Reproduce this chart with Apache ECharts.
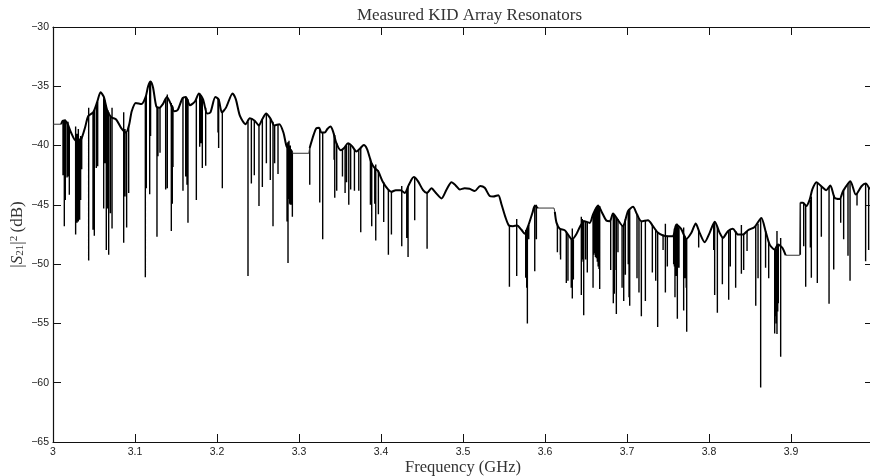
<!DOCTYPE html>
<html><head><meta charset="utf-8">
<style>html,body{margin:0;padding:0;background:#fff;overflow:hidden}#c{width:870px;height:476px}</style>
<script src="https://cdn.jsdelivr.net/npm/echarts@6/dist/echarts.min.js"></script>
</head><body><div id="c"></div>
<script>
const chartTitle = 'Measured KID Array Resonators';
const xName = 'Frequency (GHz)';

// Smooth transmission envelope, one run per measured band: [GHz, dB]
const band1 = [[3.010,-38.2],[3.012,-37.9],[3.015,-37.9],[3.018,-38.2],[3.022,-38.9],[3.028,-39.6],[3.034,-39.5],[3.039,-38.5],[3.043,-37.5],[3.049,-37.2],[3.054,-36.3],[3.058,-35.5],[3.062,-35.9],[3.066,-37],[3.071,-37.6],[3.077,-37.8],[3.083,-38.5],[3.089,-38.9],[3.093,-38.2],[3.096,-37.1],[3.101,-36.4],[3.108,-36.5],[3.113,-35.9],[3.116,-35],[3.119,-34.6],[3.122,-35.1],[3.126,-36.7],[3.130,-36.8],[3.134,-36.5],[3.139,-35.9],[3.143,-36.4],[3.148,-37.1],[3.152,-37],[3.158,-36],[3.162,-35.9],[3.167,-36.6],[3.173,-36.3],[3.178,-35.6],[3.183,-36.1],[3.188,-37.3],[3.192,-37.2],[3.198,-35.9],[3.202,-36.1],[3.206,-37.2],[3.211,-36.8],[3.219,-35.6],[3.223,-36.1],[3.228,-37.5],[3.235,-38.2],[3.240,-37.7],[3.246,-37.9],[3.251,-38.3],[3.255,-37.8],[3.260,-37.3],[3.265,-37.7],[3.270,-38.3],[3.276,-38.2],[3.281,-38.9],[3.285,-40.1],[3.289,-40.3],[3.292,-40.6]];
const band2 = [[3.313,-40.2],[3.318,-39.06],[3.321,-38.55],[3.3245,-38.5],[3.3273,-38.9],[3.3314,-38.9],[3.3346,-38.6],[3.3383,-38.4],[3.3415,-38.8],[3.3456,-39.8],[3.3509,-40.4],[3.355,-40.2],[3.3598,-39.8],[3.3647,-40.05],[3.370,-40.5],[3.375,-40.2],[3.379,-39.96],[3.383,-40.3],[3.3883,-41.45],[3.3924,-41.9],[3.3964,-42.15],[3.4025,-43.1],[3.4086,-43.7],[3.4127,-43.9],[3.418,-43.76],[3.4237,-43.76],[3.429,-44],[3.434,-43.3],[3.44,-42.66],[3.445,-43],[3.4513,-43.76],[3.456,-44],[3.4615,-43.6],[3.467,-44],[3.4737,-44.46],[3.48,-43.7],[3.486,-43.1],[3.491,-43.36],[3.496,-43.7],[3.502,-43.6],[3.508,-43.64],[3.5143,-43.84],[3.521,-43.4],[3.5265,-43.56],[3.5326,-44.26],[3.5367,-44.3],[3.543,-44.18],[3.547,-44.97],[3.552,-46.09],[3.556,-46.74],[3.561,-46.8],[3.566,-46.74],[3.5712,-47.1],[3.5753,-47.44],[3.5794,-46.8],[3.5847,-45.67],[3.5875,-45.1],[3.5915,-45.27]];
const band3 = [[3.612,-45.6],[3.614,-46.5],[3.618,-47.02],[3.624,-47.14],[3.628,-47.5],[3.633,-47.92],[3.638,-47.5],[3.643,-46.8],[3.648,-46.38],[3.6545,-46.52],[3.6586,-45.8],[3.6647,-45.06],[3.6687,-45.53],[3.6748,-46.32],[3.679,-46.38],[3.683,-45.73],[3.688,-46.18],[3.695,-46.8],[3.7012,-45.53],[3.7073,-45.17],[3.7122,-45.8],[3.7175,-46.38],[3.7256,-46.29],[3.7317,-46.8],[3.7378,-47.36],[3.744,-47.59],[3.75,-47.64],[3.756,-47.64],[3.7602,-46.66],[3.766,-47.02],[3.7724,-47.87],[3.7785,-47.36],[3.7838,-46.57],[3.7886,-47.36],[3.7947,-48.15],[3.8008,-47.36],[3.807,-46.43],[3.813,-47.36],[3.817,-47.78],[3.823,-47.22],[3.829,-47.02],[3.8354,-47.5],[3.8415,-47.5],[3.8476,-47.14],[3.8557,-46.86],[3.8638,-46.1],[3.869,-47.22],[3.874,-48.35],[3.88,-48.77],[3.884,-48.35],[3.8895,-48.63],[3.8935,-49.25]];
const band4 = [[3.9114,-44.83],[3.9146,-44.83],[3.9187,-45.1],[3.9228,-44.55],[3.926,-43.7],[3.931,-43.09],[3.937,-43.43],[3.943,-43.76],[3.948,-43.37],[3.9533,-44.41],[3.9593,-44.5],[3.9634,-43.85],[3.9724,-43],[3.979,-44.13],[3.986,-43.43],[3.991,-43.2],[3.996,-43.7]];

// Empty stretches between the resonator bands
const flat0 = [[3.0,-38.2],[3.010,-38.2]];
const flat1 = [[3.292,-40.65],[3.312,-40.65],[3.313,-40.2]];
const flat2 = [[3.5915,-45.27],[3.611,-45.27],[3.612,-45.6]];
const flat3 = [[3.8935,-49.25],[3.9106,-49.25],[3.9114,-44.83]];

// Resonance notches: [GHz, dB at top, dB at bottom]
const dipsA = [[3.0122,-37.9,-42.5],[3.0138,-37.8,-46.8],[3.015,-37.8,-44.6],[3.0171,-38,-42.7],[3.0183,-38,-42.6],[3.0199,-38.5,-44.15],[3.0276,-38.4,-47.5],[3.0293,-39,-46.5],[3.0309,-38.6,-46.4],[3.0325,-39.4,-46.25],[3.0337,-39.2,-44.6],[3.035,-39.3,-42],[3.0435,-36.8,-49.7],[3.0488,-37.2,-47.1],[3.0504,-37,-47.6],[3.0528,-36.6,-41.9],[3.0545,-36.3,-41.75],[3.0618,-36,-45.3],[3.0634,-36.2,-41.5],[3.065,-36.6,-48.8],[3.0667,-37,-45.3],[3.0679,-37.2,-49.2],[3.07,-37.5,-45.7],[3.072,-36.8,-47],[3.0862,-37.2,-48.2],[3.0878,-38.6,-44.3],[3.0898,-38.9,-46.9],[3.0923,-38.3,-44]];
const dipsB = [[3.1126,-36,-51.1],[3.1138,-35.8,-43.6],[3.1179,-34.7,-44.1],[3.119,-34.6,-39.2],[3.1268,-36.7,-47.7],[3.128,-36.8,-40.9],[3.1305,-36.8,-40.6],[3.1374,-36.1,-43.7],[3.1394,-35.7,-43.6],[3.1443,-36.4,-47.2],[3.1455,-36.6,-44.9],[3.1463,-36.7,-41.8],[3.1585,-35.9,-43.8],[3.1618,-35.9,-42.6],[3.1634,-36,-43.3],[3.1646,-36.1,-46.5],[3.1748,-36.1,-44.6],[3.1789,-35.6,-40.1],[3.1805,-35.8,-39.8],[3.1821,-36,-41.9],[3.1862,-36.8,-41.7],[3.2012,-36,-38.9],[3.202,-36.1,-40.2],[3.2065,-37.2,-43.6]];
const dipsC = [[3.2378,-38,-51],[3.2419,-37.7,-43.2],[3.2455,-37.9,-42.5],[3.2512,-38.3,-45.1],[3.2553,-37.8,-43.5],[3.2602,-37.3,-41.5],[3.265,-37.7,-42.9],[3.2683,-38,-46.8],[3.2703,-38.3,-41.5],[3.2744,-38.2,-42.4],[3.2854,-39.8,-46.4],[3.2866,-39.7,-49.9],[3.2878,-39.6,-44.5],[3.2886,-40.2,-44.9],[3.2894,-40,-45],[3.2902,-40.3,-44.9],[3.291,-40.4,-45],[3.2919,-40.6,-46]];
const dipsD = [[3.3131,-40.2,-43.3],[3.3253,-38.6,-44.8],[3.3289,-38.9,-47.9],[3.3428,-39,-41.2],[3.3436,-39.1,-44.4],[3.346,-39.8,-43.8],[3.353,-40.3,-42.6],[3.3562,-40.1,-44],[3.358,-40,-43.1],[3.3607,-39.8,-45],[3.363,-40,-43.7],[3.3676,-40.3,-43.8],[3.3729,-40.3,-43.8],[3.3753,-40.2,-47.3],[3.3871,-41.1,-45],[3.3887,-41.5,-46.8],[3.3924,-41.8,-44.9],[3.3936,-41.6,-48],[3.3968,-42.1,-45.8],[3.4033,-43.1,-46.45],[3.409,-43.7,-49.2],[3.4127,-43.9,-47.5],[3.4253,-43.4,-48.5],[3.4314,-43.7,-47.8],[3.433,-43.4,-49.4],[3.4411,-42.7,-46.3],[3.4562,-43.9,-48.7]];
const dipsE = [[3.5566,-46.7,-51.9],[3.5655,-46.2,-51],[3.5765,-47.1,-51.15],[3.5777,-47,-52],[3.5785,-46.9,-55],[3.5802,-46.7,-47.9],[3.5875,-45,-50.6],[3.5895,-45,-47.9],[3.6151,-46.6,-49],[3.6187,-47,-49.2],[3.619,-47,-49.6],[3.626,-47.2,-51.6],[3.628,-47.5,-51.4],[3.632,-47.8,-52],[3.6333,-47,-52.9],[3.6346,-47.9,-51.3],[3.6443,-46,-52.6],[3.6455,-46.2,-49.6],[3.6472,-46.3,-54.3],[3.6495,-46.4,-49.6],[3.6516,-46.5,-50.7],[3.6586,-45.8,-52],[3.6606,-45.5,-49.05],[3.6626,-45.2,-49.5],[3.6659,-45.1,-50.4],[3.6667,-45.1,-52.1]];
const dipsF = [[3.6801,-46.3,-50.5],[3.6833,-45.7,-53.3],[3.685,-45.9,-50.5],[3.687,-46.1,-54.2],[3.694,-46.7,-52],[3.696,-46.6,-53.1],[3.698,-46.2,-50.9],[3.7025,-45.4,-52.8],[3.7033,-45.4,-53.5],[3.7122,-45.8,-51.2],[3.7146,-46.1,-52.4],[3.7175,-46.4,-54.4],[3.7224,-46.3,-53.1],[3.7309,-46.7,-50.7],[3.735,-47.1,-51.4],[3.7374,-47.3,-55.3],[3.744,-47.5,-48.8],[3.7468,-46.6,-52.4],[3.7492,-47.6,-50.2],[3.7569,-47.5,-50],[3.7585,-47,-52.8],[3.7602,-46.7,-51],[3.7614,-46.6,-54.6],[3.7634,-46.9,-50.3],[3.7691,-46.9,-53.9],[3.7707,-47.6,-51.2],[3.7728,-47.8,-55.7]];
const dipsG = [[3.7874,-47.2,-48.6],[3.8057,-46.6,-48.8],[3.8069,-46.4,-52.6],[3.8102,-46.8,-54.1],[3.8163,-47.7,-51.7],[3.824,-47.2,-53],[3.826,-47.1,-50.2],[3.8325,-47.2,-52],[3.8395,-46.7,-50.8],[3.8423,-47.5,-50.5],[3.8464,-47.2,-48.9],[3.857,-46.8,-53.5],[3.8598,-46.6,-51.2],[3.863,-46.2,-60.4],[3.869,-47.2,-50.3],[3.8728,-48.2,-51.2],[3.8801,-48.8,-55.85],[3.8815,-48.7,-54.4],[3.8829,-47.2,-55.9],[3.8845,-48.3,-53.3],[3.8874,-47.8,-57.8]];
const dipsH = [[3.9114,-44.8,-49.2],[3.9155,-44.9,-48.5],[3.9179,-45,-51.9],[3.9236,-44.6,-48.6],[3.9248,-44.3,-51.15],[3.9321,-43.1,-51.6],[3.937,-43.4,-47.7],[3.9464,-43.5,-53.35],[3.9521,-44.2,-50.45],[3.9606,-44.4,-46.5],[3.9642,-43.8,-47.9],[3.9695,-43.2,-49.3],[3.972,-43,-51.4],[3.9805,-44,-45.06],[3.991,-43.2,-49.75],[3.9947,-43.5,-48.8]];
// Tightly packed notches that read as solid dark patches
const dipsDense = [[3.6445,-46.3,-49.5],[3.6465,-46.3,-49.8],[3.6595,-45.7,-49.2],[3.6615,-45.4,-49.4],[3.6638,-45.1,-49.8],[3.6648,-45.1,-50.2],[3.6845,-45.8,-52.5],[3.689,-46.2,-49],[3.7015,-45.5,-50],[3.7578,-47,-50.2],[3.7592,-46.8,-50.3],[3.7608,-46.7,-50.4],[3.7622,-46.8,-50.3],[3.7712,-47.7,-50.8],[3.7722,-47.8,-52],[3.882,-48.7,-55],[3.8838,-48.5,-54]];

const bands = [band1, band2, band3, band4];
const flats = [flat0, flat1, flat2, flat3];
const dips = [dipsA, dipsB, dipsC, dipsD, dipsE, dipsF, dipsG, dipsH, dipsDense];

const joinRuns = runs => runs.flatMap(r => [...r, null]);
const dipTrace = dips.flat().flatMap(d => [[d[0], d[1]], [d[0], d[2]], null]);

const sans = '"Liberation Sans", Arial, sans-serif';
const serif = '"Liberation Serif", serif';
const ink = '#111';
const tickLabel = v => String(v).replace('-', '\u2212');

const chart = echarts.init(document.getElementById('c'), null, {renderer: 'canvas'});
const sharedX = {type: 'value', min: 3, max: 4, interval: 0.1, splitLine: {show: false}};
const sharedY = {type: 'value', min: -65, max: -30, interval: 5, splitLine: {show: false}};
const tick = {show: true, inside: true, length: 8, lineStyle: {color: ink, width: 1}};
const spine = {show: true, onZero: false, lineStyle: {color: ink, width: 1.2}};

chart.setOption({
  animation: false,
  backgroundColor: '#fff',
  title: {text: chartTitle, left: 464.5, top: 2, textAlign: 'center',
    textStyle: {fontFamily: serif, fontSize: 17, fontWeight: 'normal', color: '#333'}},
  grid: {left: 53, width: 820, top: 27, height: 415, outerBoundsMode: 'none', containLabel: false},
  xAxis: [
    {...sharedX, position: 'bottom', axisLine: spine, axisTick: tick,
     axisLabel: {color: '#222', fontFamily: sans, fontSize: 10.5, margin: 5, showMaxLabel: false,
       formatter: v => String(+v.toFixed(1))},
     name: xName, nameLocation: 'center', nameGap: 17, nameMoveOverlap: false,
     nameTextStyle: {fontFamily: serif, fontSize: 16.5, color: '#333'}},
    {...sharedX, position: 'top', axisLine: spine, axisTick: tick, axisLabel: {show: false}}
  ],
  yAxis: [
    {...sharedY, position: 'left', axisLine: spine, axisTick: tick,
     axisLabel: {color: '#222', fontFamily: sans, fontSize: 10.5, margin: 4, formatter: tickLabel},
     name: '{t||}{i|S}{s|21}{t||}{u|2} {t|(dB)}', nameLocation: 'center', nameGap: 27, nameRotate: 90, nameMoveOverlap: false,
     nameTextStyle: {rich: {
       t: {fontFamily: serif, fontSize: 17, color: '#333'},
       i: {fontFamily: serif, fontSize: 17, fontStyle: 'italic', color: '#333'},
       s: {fontFamily: serif, fontSize: 11, color: '#333', verticalAlign: 'bottom', padding: [5, 0, 0, 0]},
       u: {fontFamily: serif, fontSize: 11, color: '#333', verticalAlign: 'top', padding: [0, 0, 5, 0]}
     }}},
    {...sharedY, position: 'right', axisLine: spine, axisTick: tick, axisLabel: {show: false}}
  ],
  series: [
    {type: 'line', name: 'notches', data: dipTrace, showSymbol: false, connectNulls: false,
     lineStyle: {color: '#000', width: 1.4}, silent: true},
    {type: 'line', name: 'gaps', data: joinRuns(flats), showSymbol: false, connectNulls: false,
     lineStyle: {color: '#333', width: 1}, silent: true},
    {type: 'line', name: 'envelope', data: joinRuns(bands), showSymbol: false, connectNulls: false, smooth: 0.25,
     lineStyle: {color: '#000', width: 2}, silent: true}
  ]
});
</script></body></html>
